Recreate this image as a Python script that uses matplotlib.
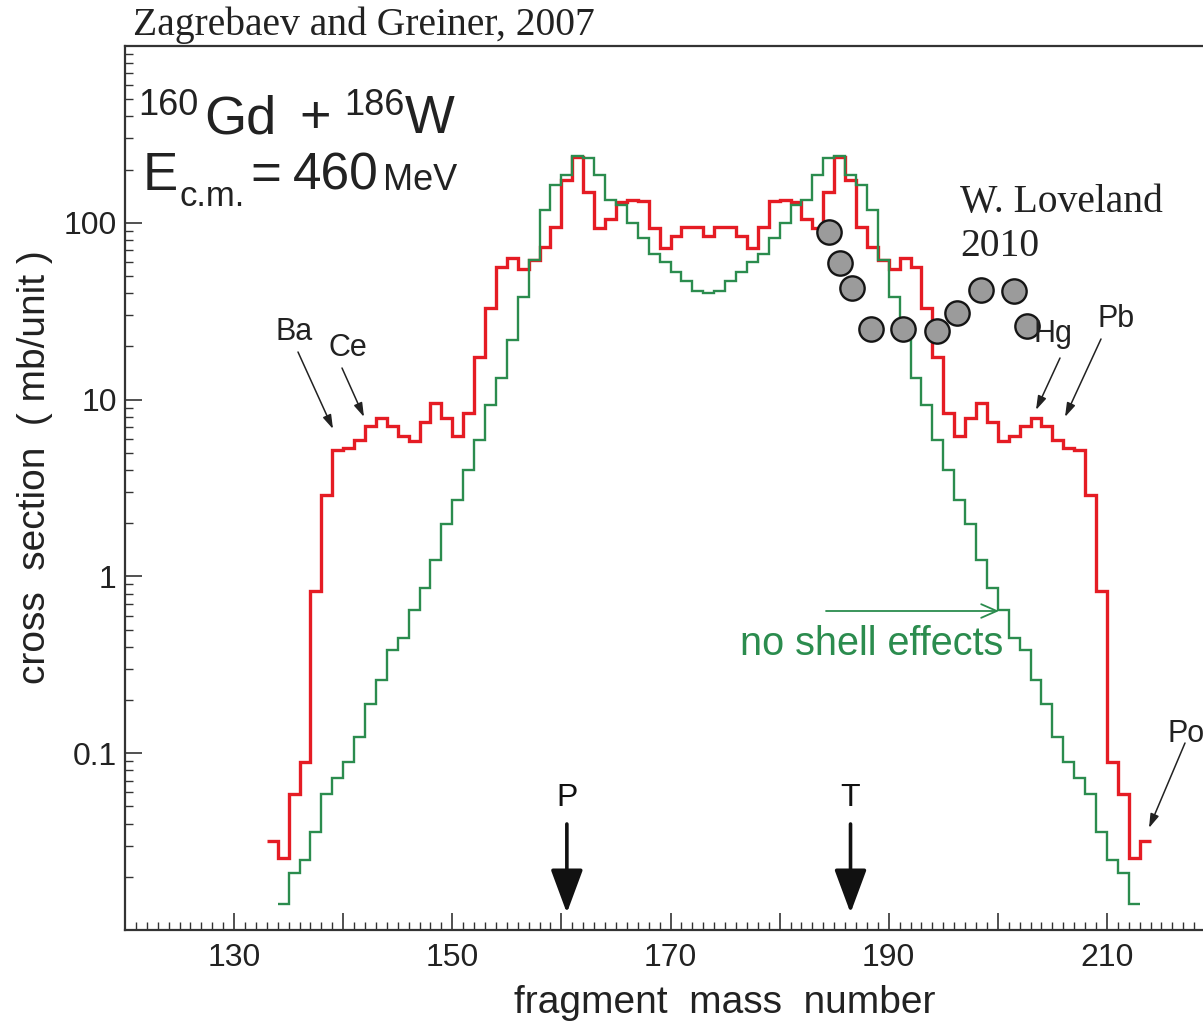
import numpy as np
import matplotlib
matplotlib.use('Agg')
import matplotlib.pyplot as plt
from matplotlib.ticker import MultipleLocator, LogLocator, FuncFormatter, NullFormatter

# ---------------- data ----------------
red_mass = list(range(133, 214))
red_sigma = [0.032, 0.0255, 0.059, 0.089, 0.83, 2.9, 5.2, 5.3, 5.9, 7.1,
             7.9, 7.1, 6.2, 5.8, 7.5, 9.6, 7.9, 6.2, 8.4, 17.5,
             33, 56, 63, 55, 62, 73, 95, 175, 237, 150,
             94, 105, 131, 135, 132, 94, 72, 84, 95, 95,
             84, 95, 95, 84, 72, 95, 132, 135, 131, 105,
             94, 150, 237, 175, 95, 73, 62, 55, 63, 56,
             33, 17.5, 8.4, 6.2, 7.9, 9.6, 7.5, 5.8, 6.2, 7.1,
             7.9, 7.1, 5.9, 5.3, 5.2, 2.9, 0.83, 0.089, 0.059, 0.0255,
             0.032]

green_mass = list(range(134, 213))
green_sigma = [0.0141, 0.0209, 0.0248, 0.0359, 0.059, 0.0726, 0.089, 0.124, 0.191, 0.259,
               0.383, 0.446, 0.645, 0.857, 1.24, 1.98, 2.7, 4.0, 5.9, 9.3,
               13.2, 21.8, 38, 62, 118, 164, 187, 239, 232, 187,
               135, 126, 99.6, 82, 67, 60, 53, 46.6, 41, 40,
               41, 46.6, 53, 60, 67, 82, 99.6, 126, 135, 187,
               232, 239, 187, 164, 118, 62, 38, 21.8, 13.2, 9.3,
               5.9, 4.0, 2.7, 1.98, 1.24, 0.857, 0.645, 0.446, 0.383, 0.259,
               0.191, 0.124, 0.089, 0.0726, 0.059, 0.0359, 0.0248, 0.0209, 0.0141]

exp_mass = [184.5, 185.5, 186.6, 188.4, 191.3, 194.4, 196.3, 198.5, 201.5, 202.7]
exp_sigma = [89, 59, 42.7, 25.1, 25, 24.3, 30.8, 41.8, 41, 26.2]

x_tick_labels = {130: '130', 150: '150', 170: '170', 190: '190', 210: '210'}
y_tick_labels = {0.1: '0.1', 1.0: '1', 10.0: '10', 100.0: '100'}

proj_pos = 160.5   # P arrow
targ_pos = 186.5   # T arrow

# ---------------- style ----------------
W_PX, H_PX, DPI = 1203, 1021, 100
RED = '#e51c24'
GREEN = '#2b8c4e'
DARK = '#222222'

plt.rcParams['font.family'] = ['Liberation Sans', 'DejaVu Sans']

fig = plt.figure(figsize=(W_PX / DPI, H_PX / DPI), dpi=DPI)
ax = fig.add_axes([125 / W_PX, 1 - 930 / H_PX, 1091 / W_PX, 884 / H_PX])
ax.set_yscale('log')
ax.set_xlim(120, 220)
ax.set_ylim(0.01, 1000)

for side in ['left', 'bottom', 'top', 'right']:
    ax.spines[side].set_linewidth(1.6)
    ax.spines[side].set_color('#333333')

red_edges = red_mass + [red_mass[-1] + 1]
green_edges = green_mass + [green_mass[-1] + 1]
ax.stairs(red_sigma, red_edges, baseline=None, color=RED, lw=2.4, zorder=3)
ax.stairs(green_sigma, green_edges, baseline=None, color=GREEN, lw=1.7, zorder=4)

ax.plot(exp_mass, exp_sigma, 'o', ms=17.5, mfc='#9b9b9b', mec='#151515', mew=1.7,
        zorder=6, ls='none')

# ticks
ax.xaxis.set_major_locator(MultipleLocator(10))
ax.xaxis.set_minor_locator(MultipleLocator(1))
ax.xaxis.set_major_formatter(FuncFormatter(
    lambda v, p: x_tick_labels.get(int(round(v)), '') if abs(v - round(v)) < 1e-6 else ''))
ax.yaxis.set_major_locator(LogLocator(base=10, numticks=20))
ax.yaxis.set_minor_locator(LogLocator(base=10, subs=np.arange(2, 10), numticks=20))
ax.yaxis.set_minor_formatter(NullFormatter())


def yfmt(v, p):
    for k, s in y_tick_labels.items():
        if abs(np.log10(v) - np.log10(k)) < 1e-6:
            return s
    return ''


ax.yaxis.set_major_formatter(FuncFormatter(yfmt))

ax.tick_params(axis='x', which='major', direction='in', length=12, width=1.2,
               labelsize=23, pad=9, colors='#333333', labelcolor=DARK, top=False)
ax.tick_params(axis='x', which='minor', direction='in', length=6, width=1.0,
               colors='#333333', top=False)
ax.tick_params(axis='y', which='major', direction='in', length=12, width=1.2,
               labelsize=23, pad=6, colors='#333333', labelcolor=DARK, right=False)
ax.tick_params(axis='y', which='minor', direction='in', length=6, width=1.0,
               colors='#333333', right=False)

ax.set_xlabel('fragment  mass  number', fontsize=28, color=DARK, va='top')
ax.xaxis.set_label_coords((725 - 125) / 1091, (930 - 985) / 884)
ax.set_ylabel('cross  section  ( mb/unit )', fontsize=28, color=DARK, va='center')
ax.yaxis.set_label_coords((35 - 125) / 1091, (930 - 467) / 884)


def fxy(px, py):
    return px / W_PX, 1 - py / H_PX


def ptext(px, py, s, size, ha='left', va='baseline', **kw):
    return fig.text(*fxy(px, py), s, fontsize=size, ha=ha, va=va, **kw)


SERIF = ['Liberation Serif', 'DejaVu Serif']

# title-like reference
ptext(133, 35, 'Zagrebaev and Greiner, 2007', 28.5, family=SERIF, color=DARK)

# reaction
ptext(138, 115, '160', 26, color=DARK)
ptext(204, 133, 'Gd', 39, color=DARK)
ptext(299, 133, '+', 39, color=DARK)
ptext(344, 115, '186', 26, color=DARK)
ptext(405, 133, 'W', 38, color=DARK)
ptext(143, 190, 'E', 38, color=DARK)
ptext(179, 206, 'c.m.', 25, color=DARK)
ptext(250, 190, '=', 38, color=DARK)
ptext(293, 190, '460', 37, color=DARK)
ptext(383, 190, 'MeV', 26, color=DARK)

# experiment label
ptext(960, 212, 'W. Loveland', 28.5, family=SERIF, color=DARK)
ptext(960, 256, '2010', 28.5, family=SERIF, color=DARK)

# element labels with arrows
arrow_kw = dict(arrowstyle='-|>,head_length=0.7,head_width=0.22', color='#222222',
                lw=1.1, shrinkA=0, shrinkB=0, mutation_scale=12)
labels = [('Ba', 276, 340, (298, 352), (333, 429)),
          ('Ce', 328, 356, (342, 368), (364, 417)),
          ('Hg', 1034, 342, (1060, 358), (1036, 410)),
          ('Pb', 1097, 327, (1101, 339), (1065, 417)),
          ('Po', 1167, 742, (1185, 743), (1149, 828))]
for s, lx, ly, a0, a1 in labels:
    ptext(lx, ly, s, 22, color=DARK)
    ax.annotate('', xy=fxy(*a1), xycoords='figure fraction',
                xytext=fxy(*a0), textcoords='figure fraction', arrowprops=arrow_kw)

# no shell effects
ptext(740, 655, 'no shell effects', 28.5, color=GREEN)
ax.annotate('', xy=fxy(999, 611), xycoords='figure fraction',
            xytext=fxy(826, 611), textcoords='figure fraction',
            arrowprops=dict(arrowstyle='->,head_length=0.8,head_width=0.35', color=GREEN,
                            lw=1.3, shrinkA=0, shrinkB=0, mutation_scale=14))

# P and T arrows
trans = ax.get_xaxis_transform()
for lab, xpos in [('P', proj_pos), ('T', targ_pos)]:
    ax.text(xpos, (930 - 806) / 884, lab, transform=trans, fontsize=23, ha='center',
            va='baseline', color='#111111')
    ax.annotate('', xy=(xpos, (930 - 913) / 884), xycoords=trans,
                xytext=(xpos, (930 - 824) / 884), textcoords=trans,
                arrowprops=dict(arrowstyle='-|>,head_length=1.35,head_width=0.5',
                                color='#111111', lw=2.6, shrinkA=0, shrinkB=0,
                                mutation_scale=20))

fig.savefig('out.png', dpi=DPI)
